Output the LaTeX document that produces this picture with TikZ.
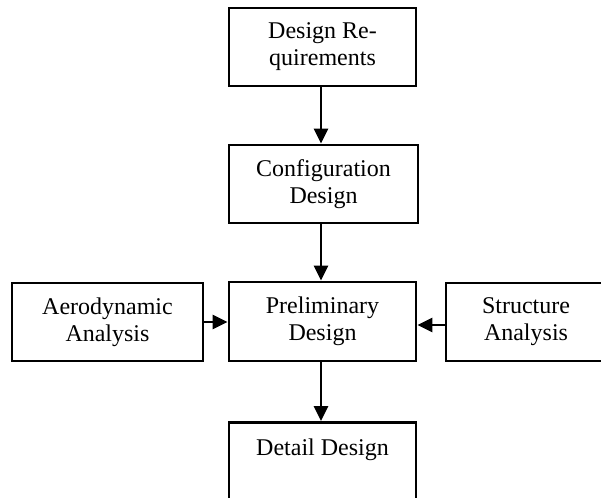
\documentclass[tikz,border=0pt]{standalone}
\usepackage{fontspec}
\setmainfont{Liberation Serif}
\usetikzlibrary{arrows.meta}
\begin{document}
\begin{tikzpicture}[x=1pt,y=-1pt,
  box/.style={draw, line width=2.8pt, align=center, inner sep=0pt, font=\fontsize{24}{27}\selectfont},
  arr/.style={line width=2.8pt, -{Triangle[length=15pt,width=14pt]}}]
\useasboundingbox (0,0) rectangle (601,497);
\clip (0,0) rectangle (601,497);
\node[box, minimum width=187pt, minimum height=78pt] (dr) at (322.5,47) {Design Re-\\quirements};
\node[box, minimum width=189pt, minimum height=78pt] (cd) at (323.5,184) {Configuration\\Design};
\node[box, minimum width=187pt, minimum height=79pt] (pd) at (322.5,321.5) {Preliminary\\Design};
\node[box, minimum width=191pt, minimum height=78pt] (aa) at (107.5,322) {Aerodynamic\\Analysis};
\node[box, minimum width=160pt, minimum height=78pt] (sa) at (526,322) {Structure\\Analysis};
\node[box, minimum width=187pt, text height=33pt, text depth=60pt, anchor=north] (dd) at (322.5,421) {Detail Design};
\draw[arr] (dr.south -| 321,0) -- (cd.north -| 321,0);
\draw[arr] (cd.south -| 321,0) -- (pd.north -| 321,0);
\draw[arr] (pd.south -| 321,0) -- (dd.north -| 321,0);
\draw[arr] (aa.east) -- (aa.east -| pd.west);
\draw[arr] ([yshift=-3pt]sa.west) -- ([yshift=-3pt]sa.west -| pd.east);
\end{tikzpicture}
\end{document}
